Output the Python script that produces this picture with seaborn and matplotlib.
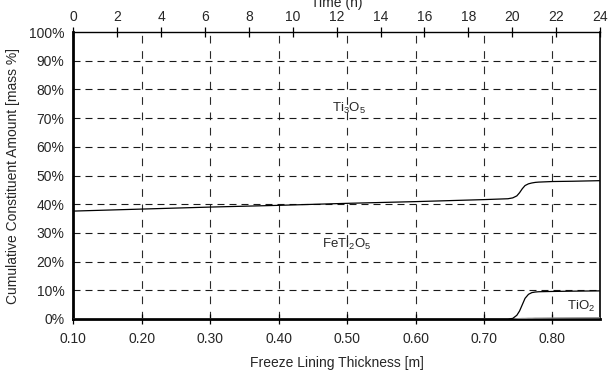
import matplotlib
matplotlib.use("Agg")
import matplotlib.pyplot as plt
import seaborn as sns
import pandas as pd
from matplotlib.ticker import FuncFormatter, MultipleLocator

# Freeze lining thickness [m] at which the cumulative amounts are evaluated
thickness = [0.10, 0.20, 0.30, 0.40, 0.50, 0.60, 0.70, 0.735, 0.742, 0.748,
             0.752, 0.756, 0.760, 0.765, 0.770, 0.775, 0.780, 0.800, 0.830, 0.8695]

# Cumulative constituent amounts [mass %]
minor_cum = [0.0, 0.0, 0.0, 0.0, 0.0, 0.0, 0.0, 0.0, 0.0, 0.1,
             0.15, 0.2, 0.2, 0.25, 0.25, 0.3, 0.3, 0.35, 0.4, 0.45]
tio2_cum = [0.0, 0.0, 0.0, 0.0, 0.0, 0.0, 0.0, 0.0, 0.2, 1.3,
            2.8, 5.0, 7.2, 8.6, 9.2, 9.4, 9.5, 9.6, 9.7, 9.8]
feti2o5_cum = [37.6, 38.3, 39.0, 39.6, 40.3, 40.9, 41.6, 41.9, 42.2, 42.9,
               44.0, 45.4, 46.5, 47.1, 47.4, 47.6, 47.7, 47.9, 48.0, 48.2]

x_ticks = [0.10, 0.20, 0.30, 0.40, 0.50, 0.60, 0.70, 0.80]
time_ticks = list(range(0, 25, 2))
x_range = (0.10, 0.8695)
time_range = (0, 24)

sns.set_theme(style="white")
plt.rcParams["font.family"] = ["Liberation Sans", "DejaVu Sans"]
plt.rcParams["mathtext.fontset"] = "custom"
plt.rcParams["mathtext.rm"] = "Liberation Sans"
plt.rcParams["mathtext.it"] = "Liberation Sans"

df = pd.DataFrame({
    "thickness": thickness,
    "minor": minor_cum,
    "tio2": tio2_cum,
    "feti2o5": feti2o5_cum,
})

fig = plt.figure(figsize=(6.08, 3.74), dpi=100)
ax = fig.add_axes([73.3 / 608, 55 / 374, 526.7 / 608, 287 / 374])

# Dashed grid: horizontal at every 10 %, vertical at the thickness ticks
for t in x_ticks[1:]:
    ax.axvline(t, zorder=0, color="#2a2a2a", linewidth=0.8,
               linestyle=(0, (6.9, 6.9)))
for p in range(10, 100, 10):
    ax.axhline(p, zorder=0, color="#1a1a1a", linewidth=0.8,
               linestyle=(0, (6.3, 4.5)))

sns.lineplot(data=df, x="thickness", y="minor", ax=ax, color="#8c8c8c",
             linewidth=0.9, zorder=3)
sns.lineplot(data=df, x="thickness", y="tio2", ax=ax, color="black",
             linewidth=0.9, zorder=4)
sns.lineplot(data=df, x="thickness", y="feti2o5", ax=ax, color="black",
             linewidth=0.9, zorder=4)

ax.set_xlim(*x_range)
ax.set_ylim(0, 100)
ax.set_xticks(x_ticks)
ax.xaxis.set_major_formatter(FuncFormatter(lambda v, _: f"{v:.2f}"))
ax.yaxis.set_major_locator(MultipleLocator(10))
ax.yaxis.set_major_formatter(FuncFormatter(lambda v, _: f"{v:.0f}%"))
ax.tick_params(axis="both", which="major", direction="inout", length=7,
               width=0.9, color="black", labelsize=10, pad=3)
ax.tick_params(axis="x", pad=6)
ax.set_xlabel("Freeze Lining Thickness [m]", fontsize=10, labelpad=7)
ax.set_ylabel("Cumulative Constituent Amount [mass %]", fontsize=10, labelpad=6)

for side, lw in [("left", 2.0), ("bottom", 2.0), ("top", 1.0), ("right", 1.2)]:
    ax.spines[side].set_visible(True)
    ax.spines[side].set_color("black")
    ax.spines[side].set_linewidth(lw)

# Secondary time axis on top
ax_top = ax.twiny()
ax_top.set_xlim(*time_range)
ax_top.set_xticks(time_ticks)
ax_top.tick_params(axis="x", direction="inout", length=7, width=0.9,
                   color="black", labelsize=10, pad=2)
ax_top.set_xlabel("Time (h)", fontsize=10, labelpad=2.5)
for s in ax_top.spines.values():
    s.set_visible(False)

ax.text(0.503, 73.5, r"Ti$_3$O$_5$", ha="center", va="center", fontsize=9.5)
ax.text(0.500, 26.0, r"FeTi$_2$O$_5$", ha="center", va="center", fontsize=9.5)
ax.text(0.862, 4.5, r"TiO$_2$", ha="right", va="center", fontsize=9.5)

fig.savefig("out.png", dpi=100)
